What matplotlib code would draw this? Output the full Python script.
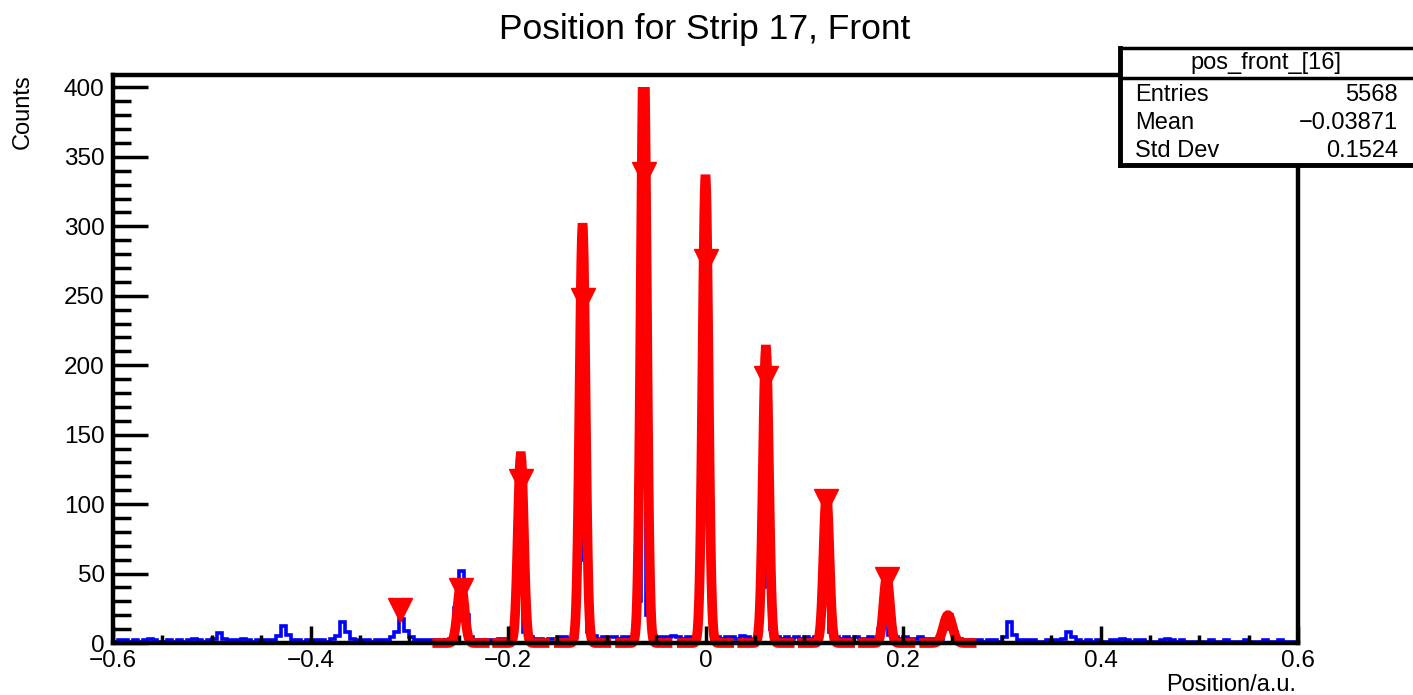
import numpy as np
import matplotlib.pyplot as plt
from matplotlib.patches import Rectangle
from matplotlib.ticker import MultipleLocator

plt.rcParams['font.family'] = ['Liberation Sans', 'DejaVu Sans']

# histogram pos_front_[16], 240 bins from -0.6 to 0.6 (width 0.005)
bin_lo, bin_hi = -0.6, 0.6
counts = [
    1, 2, 2, 1, 2, 1, 2, 3, 2, 1, 1, 2, 1, 2, 1, 2, 3, 2, 1, 2,
    3, 7, 3, 2, 2, 2, 3, 2, 1, 2, 2, 2, 2, 5, 12, 6, 2, 2, 1, 2,
    2, 2, 2, 1, 3, 5, 15, 8, 3, 2, 2, 2, 1, 2, 2, 2, 4, 8, 17, 9,
    4, 2, 2, 2, 2, 2, 1, 2, 3, 25, 52, 20, 4, 2, 2, 2, 2, 2, 3, 3,
    3, 30, 40, 8, 4, 3, 3, 2, 3, 3, 4, 4, 3, 4, 60, 90, 8, 5, 3, 4,
    4, 4, 3, 4, 4, 4, 30, 120, 20, 5, 4, 4, 4, 5, 4, 3, 4, 4, 20, 100,
    100, 20, 4, 3, 4, 4, 3, 5, 4, 3, 4, 40, 60, 10, 4, 3, 4, 3, 4, 3,
    4, 3, 4, 20, 30, 8, 4, 3, 4, 3, 4, 3, 3, 4, 3, 10, 15, 6, 4, 3,
    4, 3, 3, 4, 3, 3, 3, 3, 10, 20, 8, 3, 2, 2, 2, 2, 1, 2, 2, 1,
    4, 15, 6, 2, 2, 2, 2, 1, 1, 2, 2, 2, 3, 8, 4, 2, 1, 2, 1, 2,
    1, 1, 2, 2, 3, 2, 1, 2, 2, 1, 1, 1, 2, 3, 2, 1, 2, 1, 1, 1,
    1, 1, 2, 1, 1, 2, 1, 1, 1, 2, 1, 1, 1, 2, 1, 1, 2, 1, 1, 1,
]

# gaussian fits (mean, amplitude, sigma)
fit_mean = [-0.2476, -0.187, -0.1245, -0.0625, 0.0, 0.0612, 0.1225, 0.1835, 0.2455]
fit_amp = [42, 135, 300, 430, 335, 212, 106, 47, 20]
fit_sigma = [0.0035, 0.003, 0.003, 0.003, 0.003, 0.003, 0.003, 0.0032, 0.0045]
fit_half_range = 0.024

# peak finder markers
peak_x = [-0.309, -0.2476, -0.187, -0.1245, -0.0625, 0.0, 0.0612, 0.1225, 0.1835]
peak_y = [24, 38, 117, 247, 338, 275, 191, 102, 46]

stats_title = 'pos_front_[16]'
stats_names = ['Entries', 'Mean', 'Std Dev']
stats_values = ['5568', '\u22120.03871', '0.1524']

W, H = 1413, 695
fig = plt.figure(figsize=(W / 100, H / 100), dpi=100)
ax = fig.add_axes([113 / W, 1 - 643 / H, (1298 - 113) / W, (643 - 75) / H])

edges = np.linspace(bin_lo, bin_hi, len(counts) + 1)
ax.stairs(counts, edges, color='blue', lw=2.6, zorder=1.5)

ax.set_xlim(bin_lo, bin_hi)
ax.set_ylim(0, 409)

# function drawing is cut at the histogram maximum, but may spill below zero
clip = Rectangle((bin_lo, -8), bin_hi - bin_lo, 408, transform=ax.transData,
                 facecolor='none')
for mu, a, s in zip(fit_mean, fit_amp, fit_sigma):
    xx = np.linspace(mu - fit_half_range, mu + fit_half_range, 100)
    yy = a * np.exp(-0.5 * ((xx - mu) / s) ** 2)
    ln, = ax.plot(xx, yy, color='red', lw=7, solid_joinstyle='miter', zorder=2)
    ln.set_clip_path(clip)

ax.plot(peak_x, peak_y, 'v', color='red', markersize=17, zorder=3)

ax.set_axisbelow(False)
ax.xaxis.set_major_locator(MultipleLocator(0.2))
ax.xaxis.set_minor_locator(MultipleLocator(0.05))
ax.yaxis.set_major_locator(MultipleLocator(50))
ax.yaxis.set_minor_locator(MultipleLocator(10))
ax.tick_params(axis='x', which='major', direction='in', length=12, width=2.5,
               labelsize=17.5, pad=5, top=False)
ax.tick_params(axis='x', which='minor', direction='in', length=6, width=2.5, top=False)
ax.tick_params(axis='y', which='major', direction='in', length=25, width=2.5,
               labelsize=17.5, pad=6, right=False)
ax.tick_params(axis='y', which='minor', direction='in', length=13, width=2.5, right=False)
ax.set_xticks([-0.6, -0.4, -0.2, 0, 0.2, 0.4, 0.6])
ax.set_xticklabels(['\u22120.6', '\u22120.4', '\u22120.2', '0', '0.2', '0.4', '0.6'])
for sp in ax.spines.values():
    sp.set_linewidth(3.2)
    sp.set_zorder(4)

fig.text(705 / W, 1 - 29 / H, 'Position for Strip 17, Front', ha='center', va='center',
         fontsize=25.5)
fig.text(23 / W, 1 - 74 / H, 'Counts', rotation=90, ha='center', va='top', fontsize=17)
fig.text(1296 / W, 1 - 685 / H, 'Position/a.u.', ha='right', va='center', fontsize=17)

# stats box
bx0, bx1, by0, by1 = 1120 / W, 1.01, 1 - 165 / H, 1 - 48 / H
fig.patches.append(Rectangle((bx0, by0), bx1 - bx0, by1 - by0, transform=fig.transFigure,
                             facecolor='white', edgecolor='black', lw=2.5, zorder=5))
fig.add_artist(plt.Line2D([bx0, bx0], [by0, by1], color='black', lw=3.5, zorder=6))
fig.add_artist(plt.Line2D([bx0, bx1], [by0, by0], color='black', lw=3.5, zorder=6))
fig.add_artist(plt.Line2D([bx0, bx1], [1 - 78 / H, 1 - 78 / H], color='black', lw=2.5,
                          zorder=6))
fig.text(1266 / W, 1 - 63 / H, stats_title, ha='center', va='center', fontsize=17, zorder=7)
row_y = [95, 123, 151]
for name, val, ry in zip(stats_names, stats_values, row_y):
    fig.text(1135 / W, 1 - ry / H, name, ha='left', va='center', fontsize=17, zorder=7)
    fig.text(1398 / W, 1 - ry / H, val, ha='right', va='center', fontsize=17, zorder=7)

fig.savefig('out.png', dpi=100)
